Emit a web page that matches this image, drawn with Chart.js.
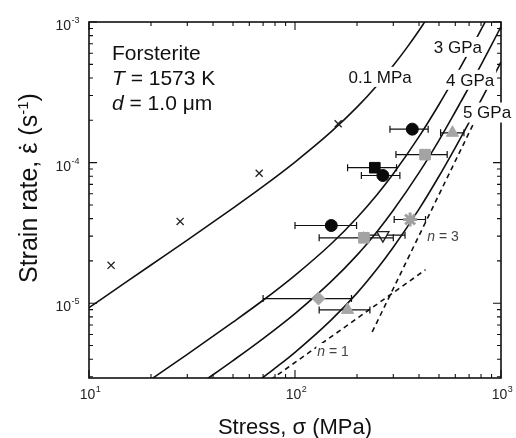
<!DOCTYPE html>
<html><head><meta charset="utf-8">
<script src="https://cdn.jsdelivr.net/npm/chart.js@4/dist/chart.umd.min.js"></script>
<style>html,body{margin:0;padding:0;background:#fff}canvas{display:block}</style>
</head><body>
<canvas id="c" width="516" height="438"></canvas>
<script>
// ---- Data (stress in MPa, strain rate in 1/s) ----
const curve01Stress = [10,15,20,30,50,70,100,150,200,250,300,350,400,430];
const curve01Rate   = [9.3e-6,1.40e-5,1.87e-5,2.81e-5,4.75e-5,6.78e-5,1.01e-4,1.66e-4,2.48e-4,3.54e-4,4.9e-4,6.6e-4,8.7e-4,1.02e-3];
const curve3Stress  = [19,30,50,70,100,150,200,250,300,400,500,600,700,800,850];
const curve3Rate    = [2.73e-6,4.33e-6,7.34e-6,1.05e-5,1.58e-5,2.65e-5,4.06e-5,5.92e-5,8.34e-5,1.53e-4,2.59e-4,4.1e-4,6.15e-4,8.82e-4,1.04e-3];
const curve4Stress  = [36,50,70,100,150,200,250,300,400,500,600,700,800,900,1000];
const curve4Rate    = [2.78e-6,3.91e-6,5.61e-6,8.45e-6,1.43e-5,2.2e-5,3.23e-5,4.58e-5,8.48e-5,1.44e-4,2.3e-4,3.45e-4,4.96e-4,6.88e-4,9.26e-4];
const curve5Stress  = [68,80,100,150,200,250,300,400,500,600,700,800,900,1000];
const curve5Rate    = [2.87e-6,3.45e-6,4.48e-6,7.62e-6,1.18e-5,1.75e-5,2.5e-5,4.67e-5,8e-5,1.28e-4,1.93e-4,2.78e-4,3.86e-4,5.2e-4];
const n1Stress = [76,430];   const n1Rate = [2.85e-6,1.73e-5];
const n3Stress = [237,731];  const n3Rate = [6.25e-6,1.86e-4];

const crossStress = [12.8,27.7,67,162];
const crossRate   = [1.86e-5,3.82e-5,8.4e-5,1.89e-4];
const blackCircleStress = [371,267,150];
const blackCircleRate   = [1.73e-4,8.1e-5,3.57e-5];
const blackCircleLo = [289,210,100];
const blackCircleHi = [443,323,199];
const blackSquareStress = [244];
const blackSquareRate   = [9.2e-5];
const blackSquareLo = [180];
const blackSquareHi = [311];
const graySquareStress = [428,216];
const graySquareRate   = [1.14e-4,2.92e-5];
const graySquareLo = [309,131];
const graySquareHi = [548,300];
const openTriStress = [267];
const openTriRate   = [3.05e-5];
const openTriLo = [215];
const openTriHi = [342];
const grayTriStress = [581,180];
const grayTriRate   = [1.63e-4,8.97e-6];
const grayTriLo = [509,131];
const grayTriHi = [661,231];
const grayStarStress = [362];
const grayStarRate   = [3.94e-5];
const grayStarLo = [303];
const grayStarHi = [430];
const grayDiamondStress = [130];
const grayDiamondRate   = [1.08e-5];
const grayDiamondLo = [70];
const grayDiamondHi = [188];

const curveLabelText   = ['0.1 MPa','3 GPa','4 GPa','5 GPa'];
const curveLabelStress = [259,618,708,855];
const curveLabelRate   = [4.07e-4,6.65e-4,3.88e-4,2.27e-4];
const nLabelNum    = ['3','1'];
const nLabelStress = [523,153];
const nLabelRate   = [2.98e-5,4.57e-6];

const xTickValues = [10,100,1000];
const xTickExp    = ['1','2','3'];
const yTickValues = [1e-3,1e-4,1e-5];
const yTickExp    = ['-3','-4','-5'];

// ---- build datasets ----
const pts = (xs, ys) => xs.map((x,i)=>({x, y: ys[i]}));
const FONT = '"Liberation Sans", Arial, Helvetica, sans-serif';

function curve(xs, ys, dash){
  return {type:'line', data: pts(xs,ys), borderColor:'#111', borderWidth:1.6,
    borderDash: dash || [], pointRadius:0, fill:false,
    cubicInterpolationMode:'monotone', order:5};
}
function marker(xs, ys, lo, hi, style, color, opts){
  return Object.assign({type:'scatter', data: pts(xs,ys), errLo: lo, errHi: hi,
    pointStyle: style, pointBackgroundColor: color, pointBorderColor: color,
    pointRadius: 6, pointBorderWidth: 1, order:1}, opts||{});
}

const datasets = [
  curve(curve01Stress, curve01Rate),
  curve(curve3Stress, curve3Rate),
  curve(curve4Stress, curve4Rate),
  curve(curve5Stress, curve5Rate),
  curve(n1Stress, n1Rate, [5,4]),
  curve(n3Stress, n3Rate, [5,4]),
  marker(crossStress, crossRate, null, null, 'crossRot', '#222', {pointRadius:5, pointBorderWidth:1.3, pointBackgroundColor:'rgba(0,0,0,0)'}),
  marker(grayDiamondStress, grayDiamondRate, grayDiamondLo, grayDiamondHi, 'rectRot', '#a6a6a6', {pointRadius:6.5}),
  marker(grayTriStress, grayTriRate, grayTriLo, grayTriHi, 'triangle', '#a6a6a6', {pointRadius:7}),
  marker(grayStarStress, grayStarRate, grayStarLo, grayStarHi, 'star', '#a0a0a0', {pointRadius:7, pointBorderWidth:3}),
  marker(graySquareStress, graySquareRate, graySquareLo, graySquareHi, 'rect', '#a3a3a3', {pointRadius:7.5}),
  marker(openTriStress, openTriRate, openTriLo, openTriHi, 'triangle', '#222', {pointRadius:7, pointRotation:180, pointBackgroundColor:'#fff', pointBorderWidth:1.3}),
  marker(blackSquareStress, blackSquareRate, blackSquareLo, blackSquareHi, 'rect', '#0a0a0a', {pointRadius:7.5}),
  marker(blackCircleStress, blackCircleRate, blackCircleLo, blackCircleHi, 'circle', '#0a0a0a', {pointRadius:6}),
];

function drawSupLabel(ctx, base, exp, x, y, align){
  ctx.font = '14px ' + FONT;
  const wb = ctx.measureText(base).width;
  ctx.font = '9px ' + FONT;
  const we = ctx.measureText(exp).width;
  let sx = align === 'right' ? x - wb - we : x - (wb+we)/2;
  ctx.textAlign = 'left'; ctx.textBaseline = 'alphabetic';
  ctx.font = '14px ' + FONT; ctx.fillText(base, sx, y);
  ctx.font = '9px ' + FONT; ctx.fillText(exp, sx + wb + 0.5, y - 7);
}

function drawParts(ctx, parts, x, y, size){
  let cx = x;
  parts.forEach(p=>{
    ctx.font = (p.italic?'italic ':'') + (p.size||size) + 'px ' + FONT;
    ctx.fillText(p.t, cx, y + (p.dy||0));
    const w = ctx.measureText(p.t).width;
    if (p.dot) { ctx.beginPath(); ctx.arc(cx + w/2 + 0.5, y - (p.size||size)*0.68, 1.3, 0, Math.PI*2); ctx.fill(); }
    cx += w;
  });
  return cx - x;
}
function measureParts(ctx, parts, size){
  let w=0;
  parts.forEach(p=>{ ctx.font=(p.italic?'italic ':'')+(p.size||size)+'px '+FONT; w+=ctx.measureText(p.t).width; });
  return w;
}

const deco = {
  id:'deco',
  beforeDatasetDraw(chart, args){
    const ds = chart.data.datasets[args.index];
    if(!ds.errLo) return;
    const ctx = chart.ctx, xs = chart.scales.x, ys = chart.scales.y;
    ctx.save(); ctx.strokeStyle = '#111'; ctx.lineWidth = 1.2;
    ds.data.forEach((p,i)=>{
      const yy = ys.getPixelForValue(p.y);
      const x1 = xs.getPixelForValue(ds.errLo[i]), x2 = xs.getPixelForValue(ds.errHi[i]);
      ctx.beginPath();
      ctx.moveTo(x1,yy); ctx.lineTo(x2,yy);
      ctx.moveTo(x1,yy-3.5); ctx.lineTo(x1,yy+3.5);
      ctx.moveTo(x2,yy-3.5); ctx.lineTo(x2,yy+3.5);
      ctx.stroke();
    });
    ctx.restore();
  },
  afterDraw(chart){
    const ctx = chart.ctx, xs = chart.scales.x, ys = chart.scales.y;
    const a = chart.chartArea;
    ctx.save();
    // frame
    ctx.strokeStyle = '#111'; ctx.lineWidth = 1.6;
    ctx.strokeRect(a.left, a.top, a.right-a.left, a.bottom-a.top);
    // ticks (inward, all four sides)
    ctx.lineWidth = 1.1;
    const xMaj = [10,100,1000], xMin = [];
    [10,100].forEach(d=>{ for(let k=2;k<=9;k++) xMin.push(d*k); });
    const yMaj = [1e-5,1e-4,1e-3], yMin = [];
    for(let k=3;k<=9;k++) yMin.push(k*1e-6);
    [1e-5,1e-4].forEach(d=>{ for(let k=2;k<=9;k++) yMin.push(d*k); });
    ctx.beginPath();
    const tx = (v,len)=>{ const p = xs.getPixelForValue(v); ctx.moveTo(p,a.bottom); ctx.lineTo(p,a.bottom-len); ctx.moveTo(p,a.top); ctx.lineTo(p,a.top+len); };
    const ty = (v,len)=>{ const p = ys.getPixelForValue(v); ctx.moveTo(a.left,p); ctx.lineTo(a.left+len,p); ctx.moveTo(a.right,p); ctx.lineTo(a.right-len,p); };
    xMaj.forEach(v=>tx(v,8)); xMin.forEach(v=>tx(v,4));
    yMaj.forEach(v=>ty(v,8)); yMin.forEach(v=>ty(v,4));
    ctx.stroke();

    // curve labels with white backing
    ctx.textBaseline = 'middle'; ctx.textAlign = 'center';
    curveLabelText.forEach((t,i)=>{
      const px = xs.getPixelForValue(curveLabelStress[i]), py = ys.getPixelForValue(curveLabelRate[i]);
      ctx.font = '17px ' + FONT;
      const w = ctx.measureText(t).width;
      ctx.fillStyle = '#fff';
      ctx.fillRect(px - w/2 - 2, py - 10, w + 4, 20);
      ctx.fillStyle = '#111';
      ctx.fillText(t, px, py + 1);
    });
    // n labels
    ctx.textAlign = 'left'; ctx.textBaseline = 'middle';
    nLabelNum.forEach((t,i)=>{
      const px = xs.getPixelForValue(nLabelStress[i]), py = ys.getPixelForValue(nLabelRate[i]);
      const parts = [{t:'n', italic:true},{t:' = ' + t}];
      const w = measureParts(ctx, parts, 14);
      ctx.fillStyle = '#fff'; ctx.fillRect(px - w/2 - 1, py - 8, w + 2, 16);
      ctx.fillStyle = '#444';
      drawParts(ctx, parts, px - w/2, py + 1, 14);
    });

    // info text
    ctx.fillStyle = '#111'; ctx.textAlign = 'left'; ctx.textBaseline = 'alphabetic';
    drawParts(ctx, [{t:'Forsterite'}], 112, 60, 21);
    drawParts(ctx, [{t:'T', italic:true},{t:' = 1573 K'}], 112, 85, 21);
    drawParts(ctx, [{t:'d', italic:true},{t:' = 1.0 \u03bcm'}], 112, 110, 21);

    // tick labels
    ctx.fillStyle = '#222';
    xTickValues.forEach((v,i)=> drawSupLabel(ctx, '10', xTickExp[i], xs.getPixelForValue(v) + 1, a.bottom + 21, 'center'));
    yTickValues.forEach((v,i)=> drawSupLabel(ctx, '10', yTickExp[i], a.left - 10, ys.getPixelForValue(v) + 8, 'right'));

    // axis titles
    ctx.fillStyle = '#111'; ctx.textAlign = 'left'; ctx.textBaseline = 'alphabetic';
    const xt = [{t:'Stress, \u03c3 (MPa)'}];
    const xw = measureParts(ctx, xt, 22);
    drawParts(ctx, xt, (a.left + a.right)/2 - xw/2, 434, 22);

    ctx.save();
    ctx.translate(37, 283);
    ctx.rotate(-Math.PI/2);
    const yt = [{t:'Strain rate, '},{t:'\u03b5', dot:true},{t:' (s'},{t:'-1', size:15, dy:-9},{t:')'}];
    drawParts(ctx, yt, 0, 0, 25);
    ctx.restore();

    ctx.restore();
  }
};

new Chart(document.getElementById('c'), {
  data: {datasets},
  options: {
    responsive:false, animation:false, devicePixelRatio:1,
    layout:{padding:{left:89, right:15, top:22, bottom:60}},
    plugins:{legend:{display:false}, tooltip:{enabled:false}},
    scales:{
      x:{type:'logarithmic', min:10, max:1000, bounds:'data', display:false},
      y:{type:'logarithmic', min:2.94e-6, max:1e-3, bounds:'data', display:false}
    }
  },
  plugins:[deco]
});
</script>
</body></html>
